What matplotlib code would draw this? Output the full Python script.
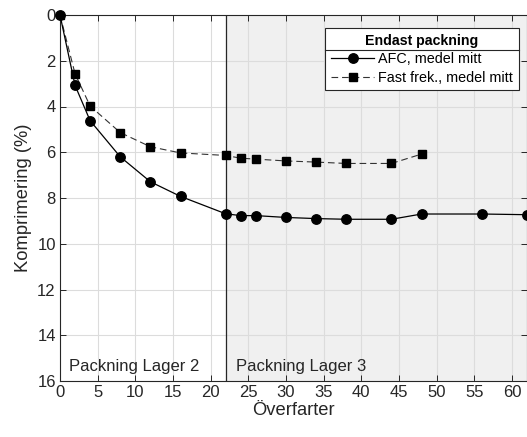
import matplotlib
matplotlib.use("Agg")
import matplotlib.pyplot as plt
from matplotlib.lines import Line2D

plt.rcParams["font.family"] = ["Liberation Sans", "DejaVu Sans"]
plt.rcParams["font.size"] = 12

# passes vs. compression (%), mean centre
afc_x = [0, 2, 4, 8, 12, 16, 22, 24, 26, 30, 34, 38, 44, 48, 56, 62]
afc_y = [0, 3.08, 4.62, 6.2, 7.29, 7.93, 8.69, 8.77, 8.77, 8.85, 8.9, 8.93, 8.93, 8.7, 8.7, 8.73]
fast_x = [0, 2, 4, 8, 12, 16, 22, 24, 26, 30, 34, 38, 44, 48]
fast_y = [0, 2.57, 3.98, 5.14, 5.76, 6.03, 6.14, 6.26, 6.3, 6.38, 6.43, 6.49, 6.49, 6.08]
layer_split = 22

fig = plt.figure(figsize=(5.27, 4.37), dpi=100)
ax = fig.add_axes([60 / 527, 1 - 381 / 437, 467 / 527, 366 / 437])

ax.axvspan(layer_split, 62, color="#f0f0f0", zorder=0)
ax.axvline(layer_split, color="#262626", lw=0.9, zorder=1)

ax.plot(afc_x, afc_y, "-o", color="black", lw=0.9, ms=6.8,
        label="AFC, medel mitt", zorder=4, clip_on=False)
ax.plot(fast_x, fast_y, "--s", color="#333333", mfc="black", mec="black",
        lw=0.8, ms=5.2, dashes=(6, 3.5), label="Fast frek., medel mitt", zorder=3)

ax.set_xlim(0, 62)
ax.set_ylim(16, 0)
ax.set_xticks(range(0, 61, 5))
ax.set_yticks(range(0, 17, 2))
ax.grid(True, color="#dcdcdc", lw=0.8)
ax.set_axisbelow(True)
ax.tick_params(direction="in", top=True, right=True, length=4, width=0.7,
               labelsize=12, colors="#262626", pad=3)
for s in ax.spines.values():
    s.set_color("#262626")
    s.set_linewidth(0.8)

ax.set_xlabel("Överfarter", fontsize=13.2, color="#262626", labelpad=1)
ax.set_ylabel("Komprimering (%)", fontsize=13.2, color="#262626", labelpad=4)

ax.text(1.2, 15.35, "Packning Lager 2", fontsize=12, va="center", color="#262626")
ax.text(23.3, 15.35, "Packning Lager 3", fontsize=12, va="center", color="#262626")

leg = ax.legend(title="Endast packning", loc="upper right",
                bbox_to_anchor=(0.982, 0.964), fancybox=False, framealpha=1,
                edgecolor="#262626", fontsize=10.4, handlelength=3.0,
                handletextpad=0.25, borderpad=0.4, labelspacing=0.3,
                borderaxespad=0)
leg.get_title().set_fontweight("bold")
leg.get_title().set_fontsize(10.2)
leg.get_frame().set_linewidth(0.8)
leg.set_zorder(6)

# separator line under the legend title
fig.canvas.draw()
r = fig.canvas.get_renderer()
fb = leg.get_frame().get_window_extent(r)
tb = leg.get_title().get_window_extent(r)
yl = (tb.y0 - 2.5) / fig.bbox.height
fig.add_artist(Line2D([fb.x0 / fig.bbox.width, fb.x1 / fig.bbox.width], [yl, yl],
                      color="#262626", lw=0.8, zorder=7))

fig.savefig("out.png", dpi=100)
